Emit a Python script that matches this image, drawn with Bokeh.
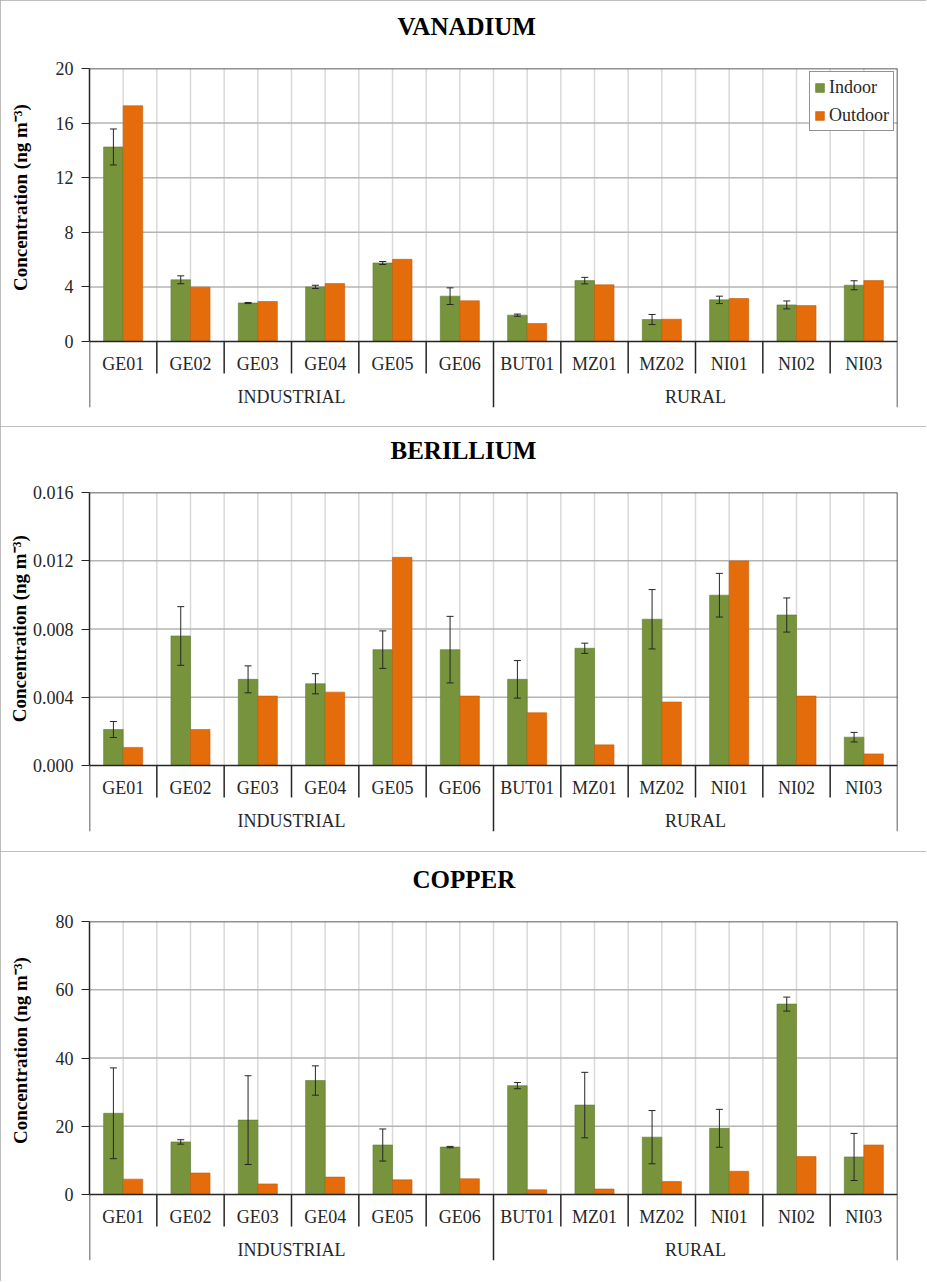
from bokeh.plotting import figure
from bokeh.layouts import column
from bokeh.models import (Range1d, FixedTicker, Whisker, TeeHead, ColumnDataSource,
                          NumeralTickFormatter, Title)
from bokeh.core.properties import value
from bokeh.embed import file_html
from bokeh.resources import INLINE

# ---------------- data ----------------
sites = ["GE01", "GE02", "GE03", "GE04", "GE05", "GE06",
         "BUT01", "MZ01", "MZ02", "NI01", "NI02", "NI03"]
groups = ["INDUSTRIAL", "RURAL"]
group_sizes = [6, 6]

v_indoor = [14.25, 4.52, 2.82, 4.00, 5.75, 3.32, 1.93, 4.46, 1.61, 3.05, 2.68, 4.12]
v_indoor_err = [1.32, 0.29, 0.04, 0.12, 0.11, 0.61, 0.08, 0.24, 0.37, 0.27, 0.29, 0.33]
v_outdoor = [17.27, 3.98, 2.93, 4.24, 6.02, 2.98, 1.32, 4.15, 1.63, 3.15, 2.63, 4.46]
v_ticks = [0, 4, 8, 12, 16, 20]

be_indoor = [0.00211, 0.00759, 0.00505, 0.00479, 0.00679, 0.00679,
             0.00505, 0.00687, 0.00857, 0.00998, 0.00882, 0.00166]
be_indoor_err = [0.00047, 0.00172, 0.00079, 0.00059, 0.00110, 0.00195,
                 0.00110, 0.00030, 0.00174, 0.00128, 0.00100, 0.00028]
be_outdoor = [0.00106, 0.00211, 0.00407, 0.00430, 0.01220, 0.00407,
              0.00309, 0.00121, 0.00372, 0.01199, 0.00407, 0.00068]
be_ticks = [0.0, 0.004, 0.008, 0.012, 0.016]

cu_indoor = [23.8, 15.4, 21.8, 33.4, 14.5, 13.9, 31.9, 26.2, 16.8, 19.4, 55.8, 11.0]
cu_indoor_err = [13.3, 0.65, 13.0, 4.3, 4.7, 0.2, 0.9, 9.6, 7.8, 5.55, 2.05, 6.9]
cu_outdoor = [4.5, 6.3, 3.1, 5.1, 4.3, 4.6, 1.4, 1.6, 3.8, 6.8, 11.1, 14.5]
cu_ticks = [0, 20, 40, 60, 80]

titles = ["VANADIUM", "BERILLIUM", "COPPER"]
y_label = "Concentration (ng m\u207b\u00b3)"

# ---------------- style ----------------
GREEN = "#77933C"
ORANGE = "#E46C0A"
FONT = "Liberation Serif"
W = 926
HEIGHTS = [426, 425, 430]
TOPS = [68, 66, 70]
TITLE_LEFT = [308, 301, 323]   # px from plot-area left edge to title start
PLOT_PX = 273          # pixels from zero line to top of plot area
EXT_PX = 66            # pixels of category-label band below zero
SITE_DIV_PX = 32.0
SITE_LABEL_PX = 22.0
GROUP_LABEL_PX = 55.0
BAR_W = 0.29


def panel(title, indoor, indoor_err, outdoor, ticks, fmt, H, top, title_left,
          lab_standoff, lab_shift, legend):
    ymax = ticks[-1]
    u = ymax / PLOT_PX
    ybot = -EXT_PX * u
    n = len(sites)
    p = figure(width=W, height=H, output_backend="svg", toolbar_location=None,
               title=None,
               x_range=Range1d(0, n), y_range=Range1d(ybot, ymax),
               x_axis_location=None, min_border_left=89, min_border_right=W - 897,
               min_border_top=top, min_border_bottom=H - top - (PLOT_PX + EXT_PX))
    p.grid.visible = False
    p.outline_line_color = None
    p.background_fill_color = "white"
    p.border_fill_color = "white"
    p.styles = {"outline": "2px solid #a9a9a9", "outline-offset": "-2px"}

    centers = [i + 0.5 for i in range(n)]
    # vertical light gridlines
    vx = centers + [float(i) for i in range(1, n)]
    p.segment(x0=vx, y0=[0] * len(vx), x1=vx, y1=[ymax] * len(vx),
              line_color="#d9d9d9", line_width=1.5)
    # horizontal gridlines
    hy = ticks[1:-1]
    p.segment(x0=[0] * len(hy), y0=hy, x1=[n] * len(hy), y1=hy,
              line_color="#b4b4b4", line_width=1.5)

    src = ColumnDataSource(dict(
        xi=[c - BAR_W / 2 for c in centers],
        xo=[c + BAR_W / 2 for c in centers],
        indoor=indoor, outdoor=outdoor,
        upper=[a + e for a, e in zip(indoor, indoor_err)],
        lower=[a - e for a, e in zip(indoor, indoor_err)],
    ))
    kw_in = dict(legend_label="Indoor") if legend else {}
    kw_out = dict(legend_label="Outdoor") if legend else {}
    p.vbar(x="xi", top="indoor", bottom=0, width=BAR_W, source=src,
           fill_color=GREEN, line_color="#62792f", line_width=0.6, **kw_in)
    p.vbar(x="xo", top="outdoor", bottom=0, width=BAR_W, source=src,
           fill_color=ORANGE, line_color="#c55a08", line_width=0.6, **kw_out)

    wk = Whisker(base="xi", upper="upper", lower="lower", source=src,
                 line_color="#262626", line_width=1, level="overlay",
                 upper_head=TeeHead(size=7, line_color="#262626", line_width=1),
                 lower_head=TeeHead(size=7, line_color="#262626", line_width=1))
    p.add_layout(wk)

    # frame lines
    p.segment(x0=[0, n, 0], y0=[ymax, ybot, 0], x1=[n, n, n], y1=[ymax, ymax, 0],
              line_color="#262626", line_width=1.5)
    # category dividers
    gb = []
    acc = 0
    for s in group_sizes:
        acc += s
        gb.append(acc)
    sd = [float(i) for i in range(1, n) if i not in gb]
    p.segment(x0=sd, y0=[0] * len(sd), x1=sd, y1=[-SITE_DIV_PX * u] * len(sd),
              line_color="#262626", line_width=1.5)
    gd = [0.0] + [float(g) for g in gb[:-1]]
    p.segment(x0=gd, y0=[0] * len(gd), x1=gd, y1=[ybot] * len(gd),
              line_color="#262626", line_width=1.5)

    p.text(x=centers, y=[-SITE_LABEL_PX * u] * n, text=sites,
           text_font=value(FONT), text_font_size=value("18px"),
           text_align="center", text_baseline="middle", text_color="#262626")
    gc = []
    start = 0
    for s in group_sizes:
        gc.append(start + s / 2)
        start += s
    p.text(x=gc, y=[-GROUP_LABEL_PX * u] * len(gc), text=groups,
           text_font=value(FONT), text_font_size=value("18px"),
           text_align="center", text_baseline="middle", text_color="#262626")

    ax = p.yaxis[0]
    ax.ticker = FixedTicker(ticks=ticks)
    ax.formatter = NumeralTickFormatter(format=fmt)
    ax.bounds = (0, ymax)
    ax.major_tick_out = 8
    ax.major_tick_in = 0
    ax.minor_tick_line_color = None
    ax.axis_line_color = "#262626"
    ax.axis_line_width = 1.5
    ax.major_tick_line_color = "#262626"
    ax.major_label_text_font = FONT
    ax.major_label_text_font_size = "18px"
    ax.major_label_text_color = "#262626"
    ax.major_label_standoff = 8
    ax.axis_label = "\u00a0" * lab_shift + y_label
    ax.axis_label_text_font = FONT
    ax.axis_label_text_font_size = "19px"
    ax.axis_label_text_font_style = "bold"
    ax.axis_label_text_color = "#000000"
    ax.axis_label_standoff = lab_standoff

    # spacer between plot area and the title, then the title itself
    p.add_layout(Title(text="\u00a0", text_font_size="1px", standoff=26), "above")
    p.add_layout(Title(text=title, text_font=FONT, text_font_size="25px",
                       text_font_style="bold", text_color="#000000",
                       align="left", offset=title_left, standoff=0,
                       vertical_align="bottom"), "above")

    if legend:
        lg = p.legend[0]
        lg.location = "top_right"
        lg.margin = 3
        lg.padding = 4
        lg.spacing = 6
        lg.glyph_width = 11
        lg.glyph_height = 11
        lg.label_height = 22
        lg.label_standoff = 4
        lg.label_text_font = FONT
        lg.label_text_font_size = "18px"
        lg.label_text_color = "#262626"
        lg.border_line_color = "#262626"
        lg.border_line_width = 1
        lg.background_fill_color = "white"
        lg.background_fill_alpha = 1
    return p


p1 = panel(titles[0], v_indoor, v_indoor_err, v_outdoor, v_ticks, "0",
           HEIGHTS[0], TOPS[0], TITLE_LEFT[0], 22, 17, True)
p2 = panel(titles[1], be_indoor, be_indoor_err, be_outdoor, be_ticks, "0.000",
           HEIGHTS[1], TOPS[1], TITLE_LEFT[1], 0, 14, False)
p3 = panel(titles[2], cu_indoor, cu_indoor_err, cu_outdoor, cu_ticks, "0",
           HEIGHTS[2], TOPS[2], TITLE_LEFT[2], 22, 17, False)

layout = column(p1, p2, p3, spacing=0)
open("out.html", "w").write(file_html(layout, INLINE))
